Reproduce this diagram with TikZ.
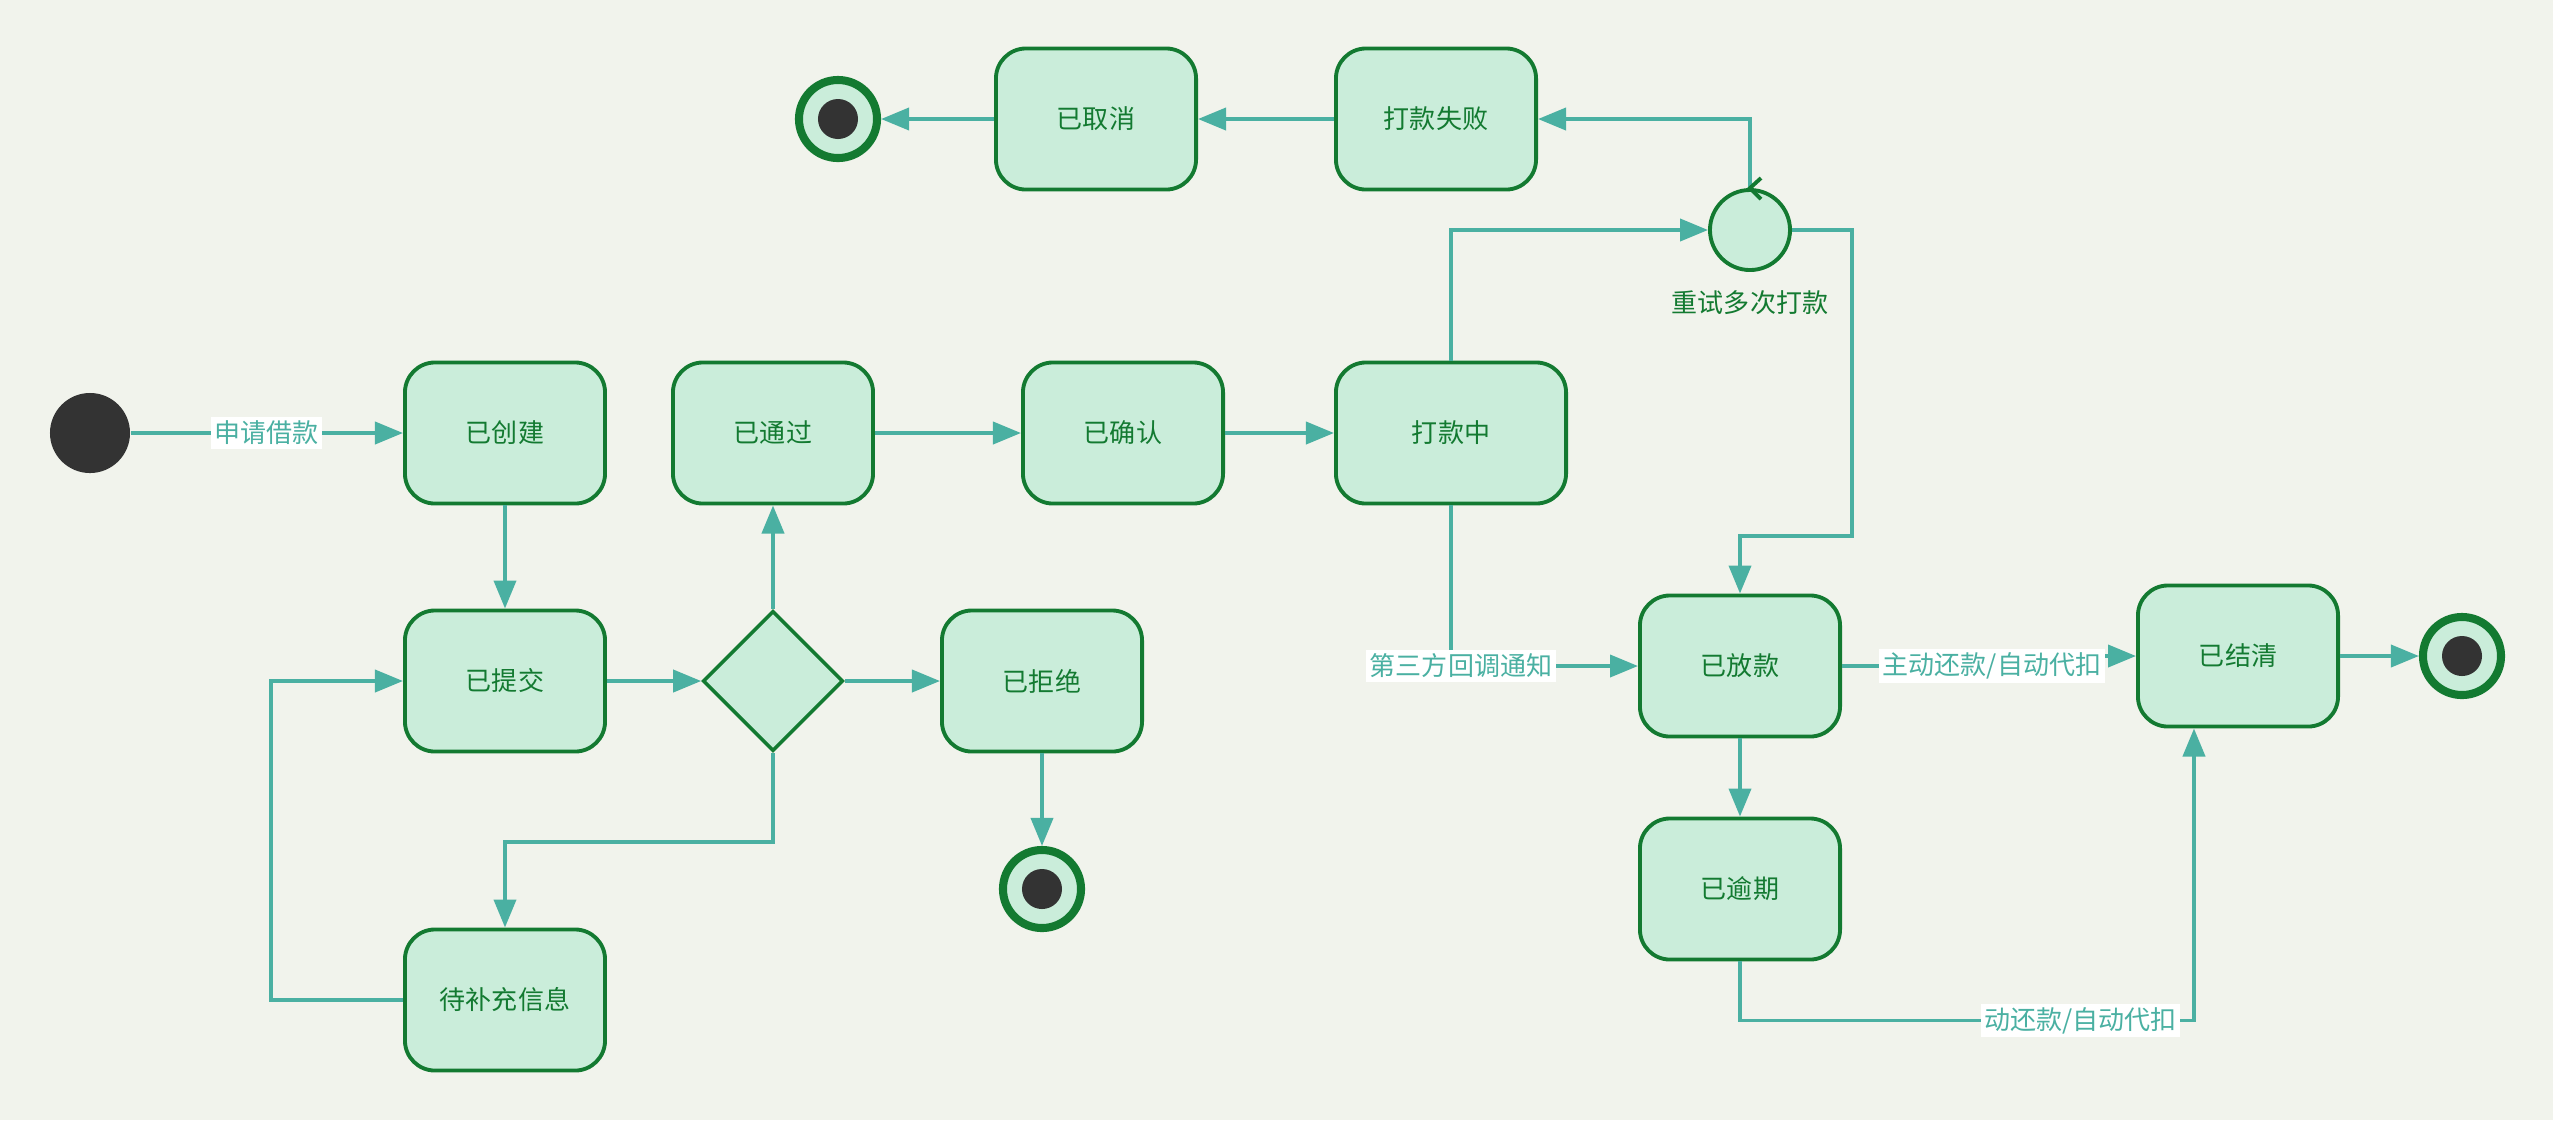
\documentclass[tikz,border=0pt]{standalone}
\usepackage{fontspec}
\setmainfont{Noto Sans CJK SC}
\usetikzlibrary{arrows.meta,shapes.geometric,calc}
\definecolor{bgpaper}{HTML}{F1F3EC}
\definecolor{statefill}{HTML}{CAEDDA}
\definecolor{stateline}{HTML}{137A31}
\definecolor{flowteal}{HTML}{4AB0A2}
\definecolor{dotgray}{HTML}{333333}
\tikzset{
  statebox/.style={
    rectangle, rounded corners=0.3cm, draw=stateline, fill=statefill,
    line width=1.1pt, minimum width=2cm, minimum height=1.41cm,
    text=stateline, font=\fontsize{7.4}{9}\selectfont, inner sep=2pt
  },
  choicebox/.style={
    diamond, draw=stateline, fill=statefill, line width=1pt,
    minimum width=1.4cm, minimum height=1.4cm, inner sep=0pt
  },
  retrystate/.style={
    circle, draw=stateline, fill=statefill, line width=1.1pt,
    minimum size=0.8cm, inner sep=0pt
  },
  initstate/.style={
    circle, fill=dotgray, minimum size=0.8cm, inner sep=0pt
  },
  finalstate/.style={
    circle, draw=stateline, fill=statefill, line width=2.3pt,
    minimum size=0.78cm, inner sep=0pt,
    path picture={\fill[dotgray] (path picture bounding box.center) circle (0.2cm);}
  },
  flowarrow/.style={
    draw=flowteal, line width=1.1pt,
    -{Triangle[length=0.28cm, width=0.22cm]}
  },
  flowlabel/.style={
    fill=white, text=flowteal, font=\fontsize{7.4}{9}\selectfont,
    inner sep=1pt
  },
}

\begin{document}
\begin{tikzpicture}[x=0.01cm, y=-0.01cm]
  \useasboundingbox[fill=bgpaper] (0,0) rectangle (2553,1120);

  % states
  \node[initstate] (start) at (90,433) {};
  \node[statebox] (created) at (505,433) {已创建};
  \node[statebox] (submitted) at (505,681) {已提交};
  \node[statebox] (supplement) at (505,1000) {待补充信息};
  \node[choicebox] (review) at (773,681) {};
  \node[statebox] (approved) at (773,433) {已通过};
  \node[statebox] (rejected) at (1042,681) {已拒绝};
  \node[finalstate] (endreject) at (1042,889) {};
  \node[statebox] (confirmed) at (1123,433) {已确认};
  \node[statebox, minimum width=2.3cm] (paying) at (1451,433) {打款中};
  \node[retrystate] (retry) at (1750,230) {};
  \node[text=stateline, font=\fontsize{7.4}{9}\selectfont] (retrylabel) at (1750,303) {重试多次打款};
  \node[statebox] (payfail) at (1436,119) {打款失败};
  \node[statebox] (cancelled) at (1096,119) {已取消};
  \node[finalstate] (endcancel) at (838,119) {};
  \node[statebox] (loaned) at (1740,666) {已放款};
  \node[statebox] (overdue) at (1740,889) {已逾期};
  \node[statebox] (settled) at (2238,656) {已结清};
  \node[finalstate] (endsettle) at (2462,656) {};

  % transitions
  \draw[flowarrow] (start) -- node[flowlabel] {申请借款} (created);
  \draw[flowarrow] (created) -- (submitted);
  \draw[flowarrow] (submitted) -- (review);
  \draw[flowarrow] (review) -- (approved);
  \draw[flowarrow] (review) -- (rejected);
  \draw[flowarrow] (review.south) -- ++(0,89) -| (supplement.north);
  \draw[flowarrow] (supplement.west) -- ++(-132,0) |- (submitted.west);
  \draw[flowarrow] (rejected) -- (endreject);
  \draw[flowarrow] (approved) -- (confirmed);
  \draw[flowarrow] (confirmed) -- (paying);
  \draw[flowarrow] (paying.north) |- (retry.west);
  \draw[flowarrow] (retry.north) |- (payfail.east);
  \draw[stateline, line width=1.1pt] ($(retry.north)+(11,-10)$) -- (retry.north) -- ++(11,11);
  \draw[flowarrow] (payfail) -- (cancelled);
  \draw[flowarrow] (cancelled) -- (endcancel);
  \draw[flowarrow] (retry.east) -- ++(60,0) -- ++(0,306) -| (loaned.north);
  \draw[flowarrow] (paying.south) |- node[flowlabel, xshift=0.1cm] {第三方回调通知} (loaned.west);
  \draw[flowarrow] (loaned.east) -- ++(150,0) node[flowlabel] {主动还款/自动代扣} |- (settled.west);
  \draw[flowarrow] (loaned) -- (overdue);
  \draw[flowarrow] (overdue.south) -- ++(0,59) -| node[flowlabel, pos=0.375] {动还款/自动代扣} ($(settled.south)+(-44,0)$);
  \draw[flowarrow] (settled) -- (endsettle);
\end{tikzpicture}
\end{document}
